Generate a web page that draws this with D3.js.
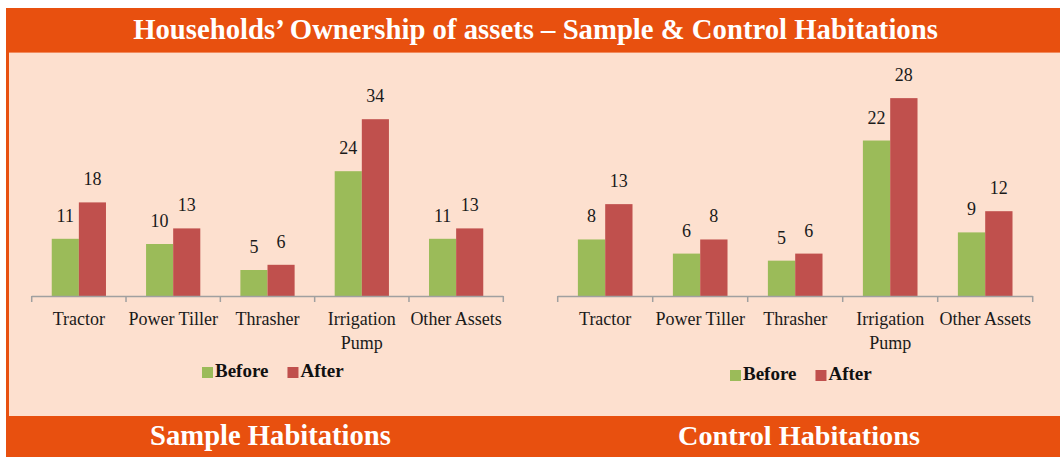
<!DOCTYPE html>
<html>
<head>
<meta charset="utf-8">
<script src="https://cdn.jsdelivr.net/npm/d3@7"></script>
<style>
  html, body { margin: 0; padding: 0; background: #ffffff; }
  svg { display: block; }
</style>
</head>
<body>
<script>
// chart data
var categories = ['Tractor', 'Power Tiller', 'Thrasher', 'Irrigation\nPump', 'Other Assets'];
var seriesNames = ['Before', 'After'];
var sampleBefore = [11, 10, 5, 24, 11];
var sampleAfter = [18, 13, 6, 34, 13];
var controlBefore = [8, 6, 5, 22, 9];
var controlAfter = [13, 8, 6, 28, 12];
var sampleMax = 40;
var controlMax = 30;
var titleText = 'Households\u2019 Ownership of assets \u2013 Sample & Control Habitations';
var panelTitles = ['Sample Habitations', 'Control Habitations'];

var svgWidth = 1060;
var svgHeight = 457;
var serif = "'Liberation Serif', 'Times New Roman', serif";
var orange = '#e8500f';
var peach = '#fde0cf';
var colors = { Before: '#9bbb59', After: '#c0504d' };

var svg = d3.select('body').append('svg')
  .attr('width', svgWidth)
  .attr('height', svgHeight);

// background pieces
svg.append('rect').attr('x', 6).attr('y', 8).attr('width', svgWidth - 6).attr('height', 44).attr('fill', orange);
svg.append('rect').attr('x', 6).attr('y', 52).attr('width', svgWidth - 6).attr('height', 364).attr('fill', orange);
svg.append('rect').attr('x', 9).attr('y', 53).attr('width', svgWidth - 9).attr('height', 363).attr('fill', peach);
svg.append('line').attr('x1', 9).attr('x2', svgWidth).attr('y1', 52.5).attr('y2', 52.5)
  .attr('stroke', '#f28a5c').attr('stroke-width', 1);
svg.append('rect').attr('x', 6).attr('y', 416).attr('width', svgWidth - 6).attr('height', 41).attr('fill', orange);

// shrink/grow font so the text fills a given width
function fitText(sel, width) {
  var w = sel.node().getComputedTextLength();
  var fs = parseFloat(sel.attr('font-size'));
  sel.attr('font-size', fs * width / w);
}

var title = svg.append('text')
  .attr('x', 535.5).attr('y', 39)
  .attr('text-anchor', 'middle')
  .attr('font-family', serif)
  .attr('font-size', 26)
  .attr('font-weight', 'bold')
  .attr('fill', '#ffffff')
  .text(titleText);
fitText(title, 805);

function drawPanel(opts) {
  var g = svg.append('g');

  var x = d3.scaleBand()
    .domain(categories)
    .range([opts.left, opts.right])
    .padding(0);

  var xInner = d3.scaleBand()
    .domain(seriesNames)
    .range([x.bandwidth() * 0.2125, x.bandwidth() * 0.7875]);

  var y = d3.scaleLinear()
    .domain([0, opts.max])
    .range([opts.axisY, opts.axisY - opts.plotH]);

  var rows = categories.map(function (c, i) {
    return { cat: c, Before: opts.before[i], After: opts.after[i] };
  });

  var groups = g.selectAll('g.cat')
    .data(rows)
    .enter()
    .append('g')
    .attr('transform', function (d) { return 'translate(' + x(d.cat) + ',0)'; });

  groups.selectAll('rect')
    .data(function (d) { return seriesNames.map(function (s) { return { s: s, v: d[s] }; }); })
    .enter()
    .append('rect')
    .attr('x', function (d) { return xInner(d.s); })
    .attr('y', function (d) { return y(d.v); })
    .attr('width', xInner.bandwidth())
    .attr('height', function (d) { return y(0) - y(d.v); })
    .attr('fill', function (d) { return colors[d.s]; });

  // value labels
  groups.selectAll('text.val')
    .data(function (d) { return seriesNames.map(function (s) { return { s: s, v: d[s] }; }); })
    .enter()
    .append('text')
    .attr('class', 'val')
    .attr('x', function (d) { return xInner(d.s) + xInner.bandwidth() / 2; })
    .attr('y', function (d) { return y(d.v) - 17; })
    .attr('text-anchor', 'middle')
    .attr('font-family', serif)
    .attr('font-size', 18)
    .attr('fill', '#1a1a1a')
    .text(function (d) { return d.v; });

  // axis line with ticks at category edges
  var axisColor = '#a0a0a0';
  g.append('line')
    .attr('x1', opts.left).attr('x2', opts.right)
    .attr('y1', opts.axisY + 0.5).attr('y2', opts.axisY + 0.5)
    .attr('stroke', axisColor).attr('stroke-width', 1.5);

  var edges = categories.map(function (c) { return x(c); }).concat([opts.right]);
  g.selectAll('line.tick')
    .data(edges)
    .enter()
    .append('line')
    .attr('x1', function (d) { return d; }).attr('x2', function (d) { return d; })
    .attr('y1', opts.axisY).attr('y2', opts.axisY + 6)
    .attr('stroke', axisColor).attr('stroke-width', 1.5);

  // category labels
  var labels = g.selectAll('text.cat')
    .data(categories)
    .enter()
    .append('text')
    .attr('class', 'cat')
    .attr('text-anchor', 'middle')
    .attr('font-family', serif)
    .attr('font-size', 18)
    .attr('fill', '#1a1a1a')
    .attr('x', function (d) { return x(d) + x.bandwidth() / 2; })
    .attr('y', opts.axisY + 29);

  labels.each(function (d) {
    var t = d3.select(this);
    d.split('\n').forEach(function (line, i) {
      t.append('tspan')
        .attr('x', x(d) + x.bandwidth() / 2)
        .attr('dy', i === 0 ? 0 : 23.5)
        .text(line);
    });
  });

  // legend
  var leg = g.append('g').attr('transform', 'translate(' + opts.legX + ',' + opts.legY + ')');
  var lx = 0;
  seriesNames.forEach(function (s) {
    leg.append('rect')
      .attr('x', lx).attr('y', -10)
      .attr('width', 11).attr('height', 11)
      .attr('fill', colors[s]);
    var t = leg.append('text')
      .attr('x', lx + 13).attr('y', 0)
      .attr('font-family', serif)
      .attr('font-size', 19)
      .attr('font-weight', 'bold')
      .attr('fill', '#111')
      .text(s);
    lx += 13 + t.node().getComputedTextLength() + 19;
  });

  // bottom banner label
  var bt = svg.append('text')
    .attr('x', opts.bannerX).attr('y', 445)
    .attr('text-anchor', 'middle')
    .attr('font-family', serif)
    .attr('font-size', 24)
    .attr('font-weight', 'bold')
    .attr('fill', '#ffffff')
    .text(opts.banner);
  fitText(bt, opts.bannerW);
}

drawPanel({
  left: 31.7, right: 503.3, axisY: 296, max: sampleMax, plotH: 208,
  before: sampleBefore, after: sampleAfter,
  legX: 202, legY: 377,
  banner: panelTitles[0], bannerX: 270.5, bannerW: 241
});

drawPanel({
  left: 557.7, right: 1032.7, axisY: 296, max: controlMax, plotH: 212,
  before: controlBefore, after: controlAfter,
  legX: 730, legY: 380,
  banner: panelTitles[1], bannerX: 799, bannerW: 242
});
</script>
</body>
</html>
